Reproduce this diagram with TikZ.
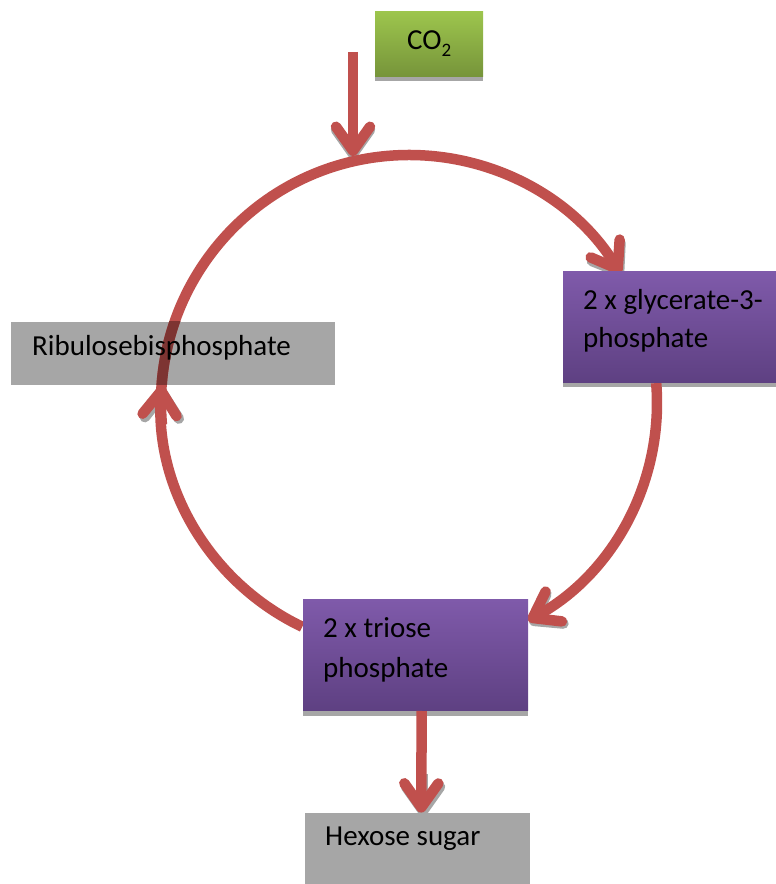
\documentclass[tikz,border=0pt]{standalone}
\usepackage{fontspec}
\setmainfont{Carlito}
\usetikzlibrary{arrows.meta,calc}
\definecolor{arrred}{RGB}{192,80,77}
\definecolor{arrdark}{RGB}{125,52,50}
\definecolor{boxgray}{RGB}{166,166,166}
\definecolor{purptop}{RGB}{127,90,170}
\definecolor{purpbot}{RGB}{94,64,130}
\definecolor{greentop}{RGB}{157,197,77}
\definecolor{greenbot}{RGB}{118,148,58}
\begin{document}
\begin{tikzpicture}[x=1pt,y=1pt,
  lbl/.style={font=\fontsize{29}{34}\selectfont, anchor=base west, inner sep=0pt},
  boxbase/.style={draw=none, inner sep=0pt, anchor=south west},
  graybox/.style={boxbase, fill=boxgray},
  purplebox/.style={boxbase, top color=purptop, bottom color=purpbot},
  greenbox/.style={boxbase, top color=greentop, bottom color=greenbot},
  flow/.style={draw=arrred, line width=10.5pt, -{Straight Barb[length=24pt,width=34pt,round]}},
  headshadow/.style={draw=boxgray, line width=10.5pt, -{Straight Barb[length=24pt,width=34pt,round]}},
]
\useasboundingbox (0,0) rectangle (776,884);
\coordinate (c) at (409,481);

% ---- boxes ----
\node[graybox, minimum width=324pt, minimum height=63pt] (ribu) at (11,499) {};
\fill[boxgray] (375,803) rectangle (483,808);
\node[greenbox, minimum width=108pt, minimum height=65pt] (co2) at (375,807) {};
\fill[boxgray] (563,497) rectangle (776,502);
\fill[boxgray] (303,168) rectangle (528,174);
\node[graybox, minimum width=225pt, minimum height=71pt] (hex) at (305,0) {};

% ---- cycle arcs ----
\coordinate (a1s) at ($(c)+(185:248)$);
\coordinate (a2s) at ($(c)+(4.6:248)$);
\coordinate (a3s) at ($(c)+(244.5:248)$);
% head shadows
\draw[headshadow] ($(c)+(34:248)+(1.5,-3)$) -- ($(c)+(31.5:248)+(1.5,-3)$);
\draw[headshadow] ($(c)+(-58.5:248)+(1.5,-3)$) -- ($(c)+(-61.3:248)+(1.5,-3)$);
\draw[headshadow] ($(c)+(179:248)+(1.5,-3)$) -- ($(c)+(176:248)+(1.5,-3)$);
\draw[headshadow] (353,760) -- (353,725);
\draw[headshadow] (423,110) -- (423,68);

\draw[flow] (a1s) arc[start angle=185, end angle=31.5, radius=248];
\draw[flow] (a2s) arc[start angle=4.6, end angle=-61.3, radius=248];
\draw[flow] (a3s) arc[start angle=244.5, end angle=176, radius=248];
\begin{scope}
  \clip (ribu.south west) rectangle (ribu.north east);
  \draw[arrdark, line width=10.5pt] (a1s) arc[start angle=185, end angle=140, radius=248];
\end{scope}

% ---- purple boxes over arc ends ----
\node[purplebox, minimum width=213pt, minimum height=111pt] (glyc) at (563,501) {};
\node[purplebox, minimum width=225pt, minimum height=111pt] (trio) at (303,173) {};

% ---- straight arrows ----
\coordinate (co2start) at (353,832);
\coordinate (co2end) at (353,728);
\draw[flow] (co2start) -- (co2end);
\draw[flow] ([xshift=6pt]trio.south) -- ([xshift=3.5pt]hex.north);

% ---- labels ----
\node[lbl] (co2t) at (407,834) {CO\raisebox{-0.22em}{\fontsize{19}{19}\selectfont 2}};
\node[lbl] (ribut) at (32,528) {Ribulosebisphosphate};
\node[lbl] (glyct1) at (583,574) {2 x glycerate-3-};
\node[lbl] (glyct2) at (583,536) {phosphate};
\node[lbl] (triot1) at (323,246) {2 x triose};
\node[lbl] (triot2) at (323,206) {phosphate};
\node[lbl] (hext) at (325,38) {Hexose sugar};
\end{tikzpicture}
\end{document}
